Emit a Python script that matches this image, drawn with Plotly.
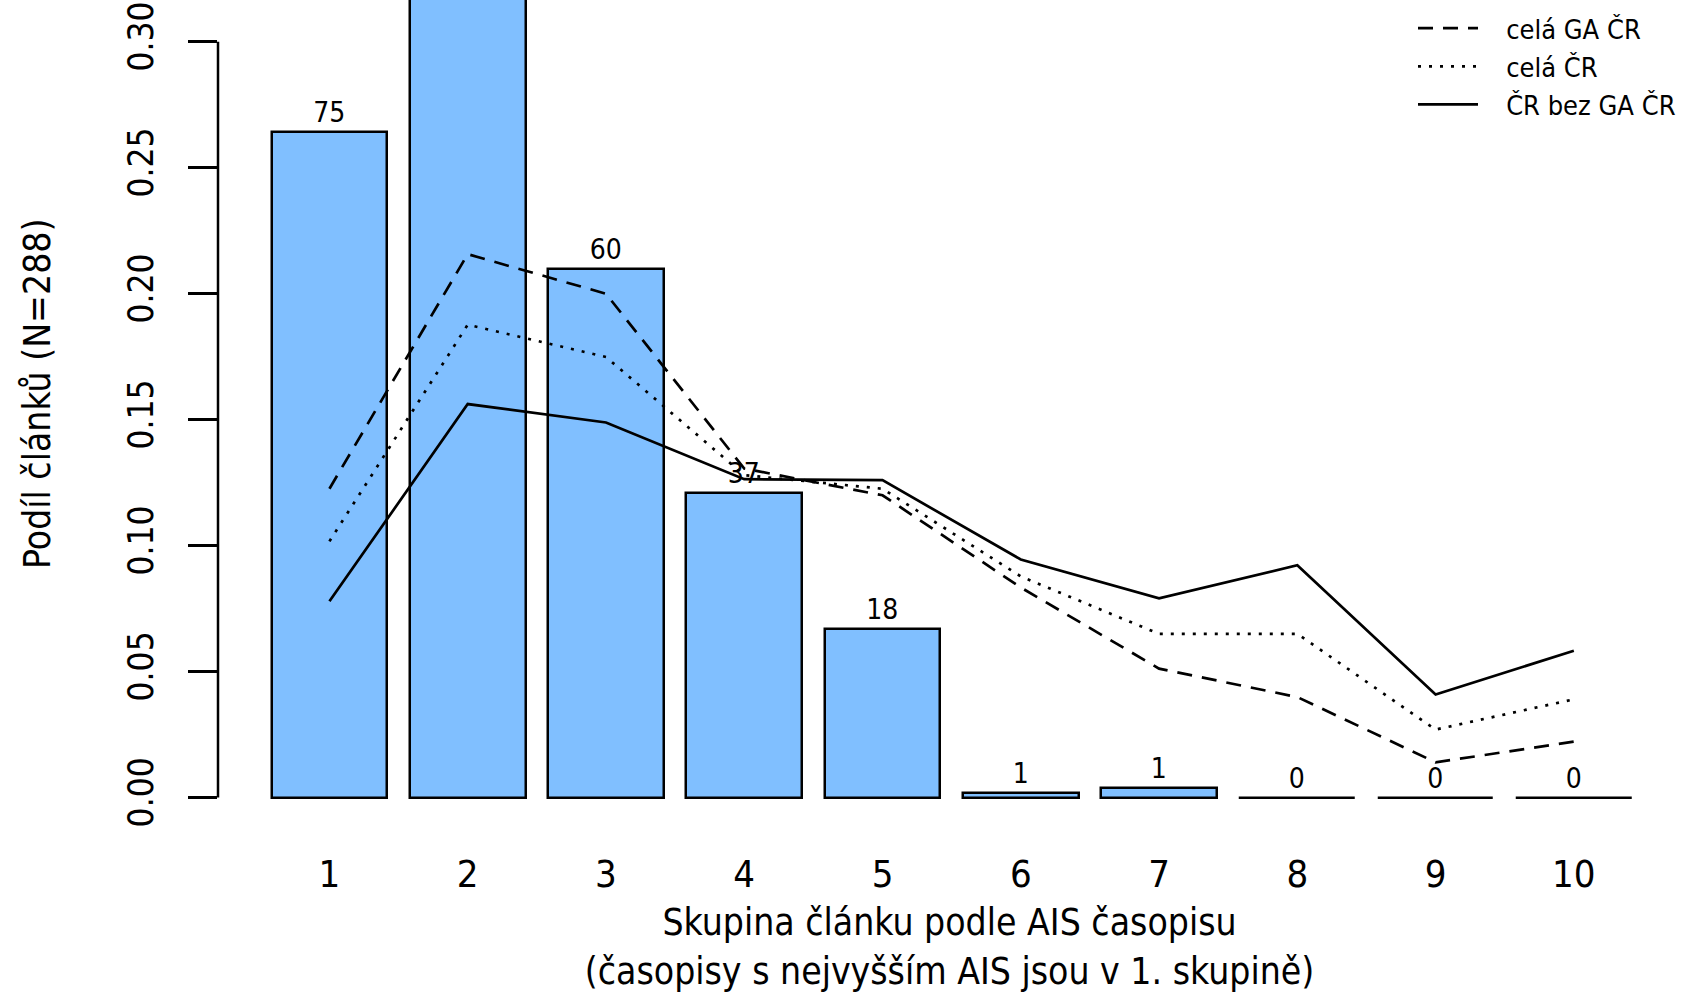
import plotly.graph_objects as go

# ---- data ----
groups = [1, 2, 3, 4, 5, 6, 7, 8, 9, 10]
group_labels = ["1", "2", "3", "4", "5", "6", "7", "8", "9", "10"]
bar_share = [0.264, 0.333, 0.210, 0.121, 0.067, 0.002, 0.004, 0.0, 0.0, 0.0]
# label of group 2 lies above the visible area in the reference
bar_counts = ["75", "", "60", "37", "18", "1", "1", "0", "0", "0"]
cela_ga_cr = [0.1226, 0.2157, 0.2000, 0.1306, 0.1200, 0.0834, 0.0512, 0.0399, 0.0140, 0.0222]
cela_cr = [0.1017, 0.1877, 0.1749, 0.1280, 0.1226, 0.0878, 0.0650, 0.0650, 0.0270, 0.0390]
cr_bez_ga = [0.0779, 0.1562, 0.1489, 0.1264, 0.1260, 0.0945, 0.0791, 0.0922, 0.0409, 0.0583]
y_ticks = [0.0, 0.05, 0.10, 0.15, 0.20, 0.25, 0.30]
y_ticktext = ["0.00", "0.05", "0.10", "0.15", "0.20", "0.25", "0.30"]
y_title = "Podíl článků (N=288)"
x_title = "Skupina článku podle AIS časopisu<br>(časopisy s nejvyšším AIS jsou v 1. skupině)"

FONT = "Liberation Sans Narrow, DejaVu Sans Condensed, Arial Narrow, sans-serif"
NB = "\u00a0\u00a0\u00a0"

fig = go.Figure()

fig.add_trace(go.Bar(
    x=groups, y=bar_share, width=0.837,
    marker=dict(color="#80BFFF", line=dict(color="black", width=2.5)),
    text=bar_counts, textposition="outside", constraintext="none",
    textfont=dict(family=FONT, size=28, color="black"),
    cliponaxis=True, showlegend=False, hoverinfo="skip",
))

line_specs = [
    ("celá GA ČR", cela_ga_cr, "15px,10px"),
    ("celá ČR", cela_cr, "3px,8px"),
    ("ČR bez GA ČR", cr_bez_ga, "solid"),
]
for name, vals, dash in line_specs:
    fig.add_trace(go.Scatter(
        x=groups, y=vals, mode="lines", name=NB + name,
        line=dict(color="black", width=2.7, dash=dash),
    ))

# y axis line only over the tick range (R style)
fig.add_shape(type="line", xref="paper", yref="y", x0=0, x1=0,
              y0=y_ticks[0], y1=y_ticks[-1], line=dict(color="black", width=2.5))

# y axis title (placed like the reference, which is cropped at the top)
fig.add_annotation(text=y_title, xref="paper", yref="paper", x=0, y=0.5236,
                   xshift=-180.5, xanchor="center", yanchor="middle", textangle=-90,
                   showarrow=False, font=dict(family=FONT, size=37, color="black"))

fig.update_layout(
    width=1681, height=1000,
    margin=dict(l=218, r=0, t=0, b=172),
    paper_bgcolor="white", plot_bgcolor="white",
    font=dict(family=FONT, size=38, color="black"),
    bargap=0,
    xaxis=dict(
        range=[0.194, 10.775], tickmode="array", tickvals=groups, ticktext=group_labels,
        showgrid=False, zeroline=False, showline=False, ticks="",
        ticklabelstandoff=20, tickfont=dict(size=38),
        title=dict(text=x_title, font=dict(size=37), standoff=14),
        automargin=False,
    ),
    yaxis=dict(
        range=[-0.01207, 0.31659], tickmode="array", tickvals=y_ticks, ticktext=y_ticktext,
        tickangle=-90, ticks="outside", ticklen=29, tickwidth=2.5, tickcolor="black",
        showgrid=False, zeroline=False, showline=False,
        ticklabelstandoff=21, tickfont=dict(size=35), ticklabeloverflow="allow",
        automargin=False,
    ),
    legend=dict(
        x=1.0, xanchor="right", y=0.995, yanchor="top",
        font=dict(size=27), bgcolor="rgba(0,0,0,0)", itemwidth=60,
        tracegroupgap=0,
    ),
)

fig.write_html("out.html", config={"displayModeBar": False},
               post_script="document.body.style.margin='0';")
